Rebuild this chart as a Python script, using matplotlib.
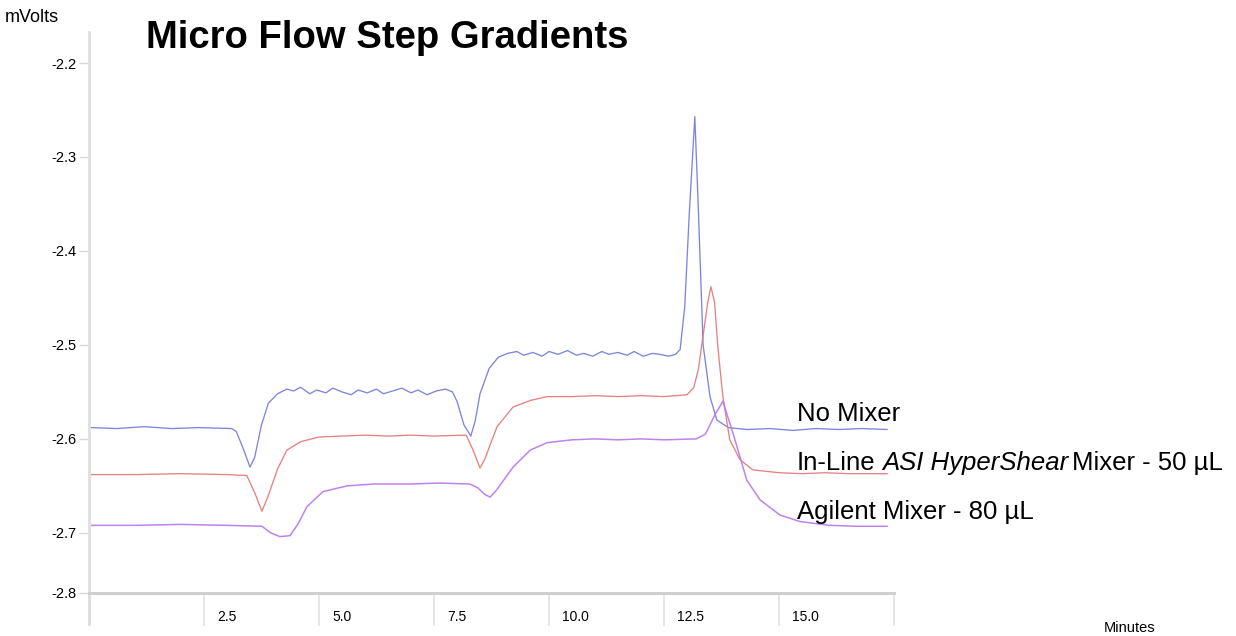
import matplotlib
matplotlib.use("Agg")
import matplotlib.pyplot as plt
from matplotlib.transforms import ScaledTranslation

plt.rcParams['font.family'] = ['Liberation Sans', 'DejaVu Sans']

# ---------------- data ----------------
title = "Micro Flow Step Gradients"
y_unit = "mVolts"
x_unit = "Minutes"

x_tick_values = [0, 2.5, 5.0, 7.5, 10.0, 12.5, 15.0, 17.5]
x_tick_labels = ["", "2.5", "5.0", "7.5", "10.0", "12.5", "15.0", ""]
y_tick_values = [-2.2, -2.3, -2.4, -2.5, -2.6, -2.7]
y_tick_labels = ["-2.2", "-2.3", "-2.4", "-2.5", "-2.6", "-2.7", "-2.8"]

# No Mixer (blue)
t_no_mixer = [0.05, 0.6, 1.2, 1.8, 2.4, 3.1, 3.2, 3.35, 3.5, 3.6, 3.75, 3.9, 4.1, 4.3,
              4.45, 4.6, 4.8, 4.95, 5.15, 5.3, 5.5, 5.7, 5.85, 6.05, 6.25, 6.4, 6.6,
              6.8, 7.0, 7.15, 7.35, 7.55, 7.75, 7.9, 8.0, 8.15, 8.3, 8.4, 8.5, 8.7,
              8.9, 9.1, 9.3, 9.45, 9.65, 9.85, 10.0, 10.2, 10.4, 10.6, 10.75, 10.95,
              11.15, 11.3, 11.5, 11.7, 11.85, 12.05, 12.25, 12.4, 12.6, 12.75, 12.85,
              12.95, 13.05, 13.17, 13.25, 13.35, 13.5, 13.65, 13.9, 14.3, 14.8, 15.3,
              15.8, 16.3, 16.8, 17.35]
v_no_mixer = [-2.588, -2.589, -2.587, -2.589, -2.588, -2.589, -2.592, -2.610, -2.630, -2.620,
              -2.585, -2.562, -2.552, -2.547,
              -2.549, -2.545, -2.552, -2.548, -2.551, -2.546, -2.550, -2.553, -2.548, -2.551,
              -2.547, -2.552, -2.549, -2.546, -2.551, -2.548, -2.553, -2.549, -2.547, -2.550,
              -2.560, -2.585, -2.597, -2.580, -2.552, -2.525, -2.513, -2.509,
              -2.507, -2.511, -2.508, -2.512, -2.507, -2.510, -2.506, -2.511, -2.509, -2.512,
              -2.507, -2.510, -2.508, -2.511, -2.507, -2.512, -2.509, -2.510, -2.512, -2.510,
              -2.505, -2.460, -2.360, -2.257, -2.360, -2.500, -2.555, -2.580, -2.588, -2.590,
              -2.589, -2.591, -2.589, -2.590, -2.589, -2.590]

# In-Line ASI HyperShear Mixer - 50 uL (red)
t_hypershear = [0.05, 1.0, 2.0, 3.0, 3.43, 3.6, 3.76, 3.9, 4.1, 4.3, 4.6, 5.0, 5.5, 6.0,
                6.5, 7.0, 7.5, 8.2, 8.35, 8.5, 8.6, 8.87, 9.22, 9.6, 9.96, 10.5, 11.0,
                11.5, 12.0, 12.5, 13.0, 13.15, 13.25, 13.35, 13.45, 13.52, 13.6, 13.67,
                13.78, 13.93, 14.15, 14.43, 15.0, 15.5, 16.0, 16.5, 17.35]
v_hypershear = [-2.638, -2.638, -2.637, -2.638, -2.639, -2.657, -2.677, -2.660, -2.632, -2.612,
                -2.603, -2.598, -2.597, -2.596, -2.597, -2.596, -2.597, -2.596, -2.612, -2.631,
                -2.622, -2.587, -2.566, -2.559, -2.555, -2.555, -2.554, -2.555, -2.554, -2.555,
                -2.553, -2.545, -2.525, -2.490, -2.455, -2.438, -2.455, -2.502, -2.555, -2.601,
                -2.622, -2.633, -2.636, -2.637, -2.636, -2.637, -2.637]

# Agilent Mixer - 80 uL (purple)
t_agilent = [0.05, 1.0, 2.0, 3.0, 3.76, 3.95, 4.15, 4.37, 4.55, 4.74, 5.09, 5.61, 6.2, 7.0,
             7.6, 8.28, 8.45, 8.6, 8.72, 8.85, 9.22, 9.59, 9.96, 10.5, 11.0, 11.5, 12.0,
             12.5, 13.2, 13.4, 13.6, 13.78, 14.0, 14.3, 14.59, 15.02, 15.46, 16.1, 16.7, 17.35]
v_agilent = [-2.692, -2.692, -2.691, -2.692, -2.693, -2.700, -2.704, -2.703, -2.690, -2.672,
             -2.656, -2.650, -2.648, -2.648, -2.647, -2.648, -2.652, -2.659, -2.662, -2.655,
             -2.630, -2.612, -2.604, -2.601, -2.600, -2.601, -2.600, -2.601, -2.600, -2.595,
             -2.575, -2.560, -2.594, -2.644, -2.665, -2.681, -2.688, -2.692, -2.693, -2.693]

series_names = ["No Mixer", "In-Line ASI HyperShear Mixer - 50 µL", "Agilent Mixer - 80 µL"]
series_colors = ["#6f78dc", "#e47474", "#b676f0"]

# ---------------- figure ----------------
W, H = 1236, 636
fig = plt.figure(figsize=(W / 100, H / 100), dpi=100)
ax = fig.add_axes([89 / W, 1 - 593 / H, 805 / W, 561 / H])

ax.plot(t_no_mixer, v_no_mixer, color=series_colors[0], lw=0.95, alpha=0.9)
ax.plot(t_hypershear, v_hypershear, color=series_colors[1], lw=0.95, alpha=0.9)
ax.plot(t_agilent, v_agilent, color=series_colors[2], lw=1.1, alpha=0.9)

ax.set_xlim(0, 17.5)
ax.set_ylim(-2.764, -2.167)

for s in ["top", "right"]:
    ax.spines[s].set_visible(False)
ax.spines["left"].set_visible(False)
ax.spines["bottom"].set_color("#cfcfcf")
ax.spines["bottom"].set_linewidth(2.2)
# y axis line, extending a little below the x axis
ax.plot([0, 0], [-0.055, 1.0], transform=ax.transAxes, clip_on=False,
        color="#dedede", lw=2.0)

ax.set_xticks(x_tick_values)
ax.set_xticklabels(x_tick_labels)
ax.tick_params(axis="x", direction="out", length=24, width=1.4, color="#e6e6e6",
               pad=-12, labelsize=10)
offset = ScaledTranslation(13 / 100, 0, fig.dpi_scale_trans)
for lab in ax.get_xticklabels():
    lab.set_horizontalalignment("left")
    lab.set_transform(lab.get_transform() + offset)

ax.set_yticks(y_tick_values + [ax.get_ylim()[0]])
ax.set_yticklabels(y_tick_labels)
ax.tick_params(axis="y", direction="out", length=7, width=1.0, color="#d8d8d8",
               pad=2, labelsize=10.5)

# texts
fig.text(5 / W, 1 - 18 / H, y_unit, fontsize=13, va="center", ha="left")
fig.text(146 / W, 1 - 48 / H, title, fontsize=27.5, fontweight="bold", va="baseline", ha="left")
fig.text(1130 / W, 1 - 628 / H, x_unit, fontsize=10.5, va="center", ha="center")

fs = 18.5
lx = 797 / W
fig.text(lx, 1 - 421 / H, "No Mixer", fontsize=fs, va="baseline", ha="left")
t1 = fig.text(lx, 1 - 470 / H, "In-Line", fontsize=fs, va="baseline", ha="left")
t2 = ax.annotate("ASI HyperShear", xy=(1, 0), xycoords=t1, xytext=(5, 0),
                 textcoords="offset points", fontsize=fs, style="italic",
                 va="bottom", ha="left", annotation_clip=False)
ax.annotate("Mixer - 50 µL", xy=(1, 0), xycoords=t2, xytext=(2.5, 0),
            textcoords="offset points", fontsize=fs, va="bottom", ha="left",
            annotation_clip=False)
fig.text(lx, 1 - 519 / H, "Agilent Mixer - 80 µL", fontsize=fs, va="baseline", ha="left")

fig.savefig("out.png", dpi=100)
